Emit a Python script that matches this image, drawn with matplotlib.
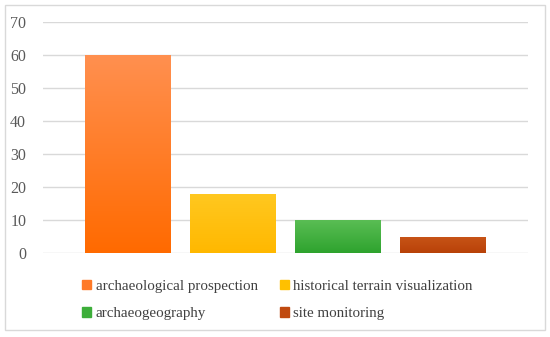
import matplotlib.pyplot as plt
from matplotlib.patches import Patch, Rectangle
from matplotlib.colors import LinearSegmentedColormap
import numpy as np

categories = ["archaeological prospection", "historical terrain visualization",
              "archaeogeography", "site monitoring"]
values = [60, 18, 10, 5]
top_colours = ["#FF9050", "#FFC820", "#5BBE55", "#C85418"]
bottom_colours = ["#FF6A00", "#FFB800", "#2EA32E", "#B84208"]
solid_colours = ["#FF7A28", "#FFC000", "#3DAE3A", "#C04A10"]
yticks = [0, 10, 20, 30, 40, 50, 60, 70]

plt.rcParams['font.family'] = ['Liberation Serif', 'DejaVu Serif']

fig = plt.figure(figsize=(5.5, 3.37), dpi=100)
# outer frame
fig.patches.append(Rectangle((0.009, 0.02), 0.982, 0.965, transform=fig.transFigure,
                             fill=False, edgecolor="#D9D9D9", linewidth=1))
ax = fig.add_axes([0.078, 0.249, 0.882, 0.686])

x = np.arange(len(categories))
bars = ax.bar(x, values, width=0.81, color=solid_colours, zorder=2)

# vertical gradient inside each bar
grad = np.linspace(0, 1, 256).reshape(-1, 1)
for b, c1, c2 in zip(bars, top_colours, bottom_colours):
    cmap = LinearSegmentedColormap.from_list("g", [c2, c1])
    im = ax.imshow(grad, extent=[b.get_x(), b.get_x() + b.get_width(), 0, b.get_height()],
                   origin="lower", aspect="auto", cmap=cmap, zorder=3)
    im.set_clip_path(b)

ax.set_xlim(-0.805, 3.81)
ax.set_ylim(0, 70)
ax.set_yticks(yticks)
ax.set_xticks([])
ax.yaxis.grid(True, color="#D9D9D9", linewidth=1, zorder=0)
ax.set_axisbelow(True)
for s in ax.spines.values():
    s.set_visible(False)
ax.tick_params(axis="y", length=0, pad=12, labelsize=11.5, labelcolor="#595959")

# legend filled row by row
order = [0, 2, 1, 3]
handles = [Patch(color=solid_colours[i]) for i in order]
labels = [categories[i] for i in order]
fig.legend(handles, labels, loc="lower left", bbox_to_anchor=(0.125, 0.01),
           ncol=2, frameon=False, fontsize=10.8, labelcolor="#404040",
           handlelength=0.6, handleheight=0.6, handletextpad=0.3,
           columnspacing=1.45, labelspacing=0.95)

plt.savefig("out.png", dpi=100)
plt.close()
